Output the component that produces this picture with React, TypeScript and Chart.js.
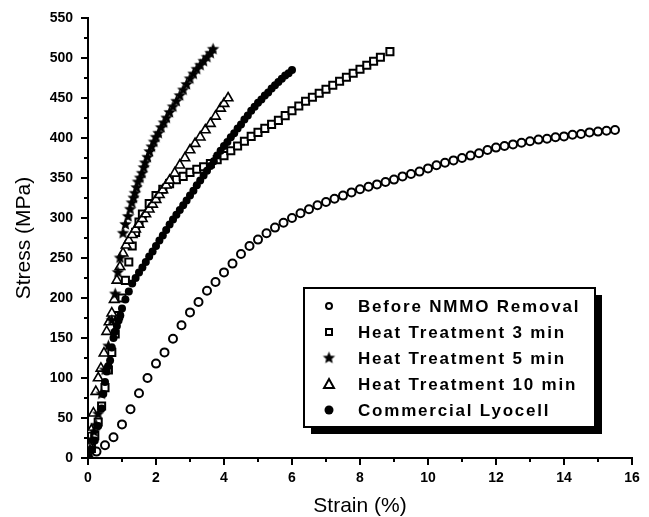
import React, { useEffect, useRef } from 'react';
import { Chart, registerables } from 'chart.js';

Chart.register(...registerables);

const FONT = '"Liberation Sans", Arial, Helvetica, sans-serif';

// ---------- data ----------
const beforeStrain = [0, 0.25, 0.5, 0.75, 1.0, 1.25, 1.5, 1.75, 2.0, 2.25, 2.5, 2.75, 3.0, 3.25, 3.5, 3.75, 4.0, 4.25, 4.5, 4.75, 5.0, 5.25, 5.5, 5.75, 6.0, 6.25, 6.5, 6.75, 7.0, 7.25, 7.5, 7.75, 8.0, 8.25, 8.5, 8.75, 9.0, 9.25, 9.5, 9.75, 10.0, 10.25, 10.5, 10.75, 11.0, 11.25, 11.5, 11.75, 12.0, 12.25, 12.5, 12.75, 13.0, 13.25, 13.5, 13.75, 14.0, 14.25, 14.5, 14.75, 15.0, 15.25, 15.5];
const beforeStress = [0, 8, 16, 26, 42, 61, 81, 100, 118, 132, 149, 166, 182, 195, 209, 220, 232, 243, 255, 265, 273, 281, 288, 294, 300, 306, 311, 316, 320, 324, 328, 332, 336, 339, 342, 345, 348, 352, 355, 358, 362, 366, 369, 372, 375, 378, 381, 385, 388, 390, 392, 394, 396, 398, 399, 401, 402, 404, 405, 407, 408, 409, 410];

const ht3Strain = [0, 0.1, 0.2, 0.3, 0.4, 0.5, 0.6, 0.7, 0.8, 0.9, 1.0, 1.1, 1.2, 1.3, 1.4, 1.5, 1.6, 1.8, 2.0, 2.2, 2.4, 2.6, 2.8, 3.0, 3.2, 3.4, 3.6, 3.8, 4.0, 4.2, 4.4, 4.6, 4.8, 5.0, 5.2, 5.4, 5.6, 5.8, 6.0, 6.2, 6.4, 6.6, 6.8, 7.0, 7.2, 7.4, 7.6, 7.8, 8.0, 8.2, 8.4, 8.6, 8.88];
const ht3Stress = [0, 12, 28, 45, 65, 88, 110, 132, 155, 178, 200, 222, 245, 265, 282, 295, 305, 318, 328, 336, 343, 348, 352, 357, 361, 364, 368, 373, 378, 384, 390, 396, 402, 407, 412, 417, 422, 428, 434, 440, 446, 451, 456, 461, 466, 471, 476, 481, 486, 491, 496, 501, 508];

const ht5Strain = [0, 0.06, 0.12, 0.18, 0.24, 0.3, 0.4, 0.5, 0.6, 0.7, 0.8, 0.88, 0.94, 1.03, 1.1, 1.18, 1.24, 1.29, 1.34, 1.38, 1.43, 1.47, 1.53, 1.59, 1.64, 1.68, 1.75, 1.81, 1.87, 1.94, 2.0, 2.07, 2.15, 2.23, 2.31, 2.4, 2.5, 2.6, 2.7, 2.8, 2.9, 3.0, 3.1, 3.2, 3.3, 3.4, 3.5, 3.6, 3.68];
const ht5Stress = [0, 12, 23, 33, 41, 55, 80, 110, 140, 172, 205, 232, 250, 281, 292, 302, 311, 319, 325, 331, 338, 345, 350, 356, 363, 369, 376, 383, 389, 395, 401, 406, 413, 419, 425, 432, 439, 446, 453, 460, 467, 474, 480, 486, 491, 496, 501, 506, 511];

const ht10Strain = [0, 0.05, 0.1, 0.16, 0.23, 0.3, 0.38, 0.47, 0.55, 0.62, 0.7, 0.77, 0.85, 0.94, 1.03, 1.12, 1.2, 1.3, 1.4, 1.5, 1.6, 1.7, 1.8, 1.9, 2.0, 2.1, 2.2, 2.3, 2.4, 2.55, 2.7, 2.85, 3.0, 3.15, 3.3, 3.45, 3.6, 3.75, 3.9, 4.0, 4.12];
const ht10Stress = [0, 15, 35, 56, 83, 100, 112, 131, 158, 170, 181, 198, 222, 239, 256, 266, 272, 279, 286, 292, 299, 305, 311, 317, 323, 329, 335, 341, 347, 356, 366, 375, 385, 393, 401, 410, 418, 427, 437, 443, 450];

const lyoStrain = [0, 0.1, 0.2, 0.3, 0.4, 0.45, 0.5, 0.55, 0.6, 0.65, 0.7, 0.75, 0.8, 0.85, 0.9, 0.95, 1.0, 1.1, 1.2, 1.3, 1.4, 1.5, 1.6, 1.7, 1.8, 1.9, 2.0, 2.1, 2.2, 2.3, 2.4, 2.5, 2.6, 2.7, 2.8, 2.9, 3.0, 3.1, 3.2, 3.3, 3.4, 3.5, 3.6, 3.7, 3.8, 3.9, 4.0, 4.1, 4.2, 4.3, 4.4, 4.5, 4.6, 4.7, 4.8, 4.9, 5.0, 5.1, 5.2, 5.3, 5.4, 5.5, 5.6, 5.7, 5.8, 5.9, 6.0];
const lyoStress = [0, 10, 22, 40, 62, 80, 95, 108, 115, 122, 138, 150, 158, 165, 172, 178, 187, 198, 208, 218, 225, 232, 238, 245, 252, 258, 265, 272, 278, 285, 292, 298, 304, 310, 316, 322, 328, 334, 341, 347, 353, 359, 365, 371, 378, 384, 390, 395, 401, 406, 412, 417, 423, 428, 434, 439, 444, 448, 453, 457, 462, 466, 470, 474, 478, 481, 485];

const seriesLabels = ['Before NMMO Removal', 'Heat Treatment 3 min', 'Heat Treatment 5 min', 'Heat Treatment 10 min', 'Commercial Lyocell'];
const xTickStep = 2;
const yTickStep = 50;

const toPoints = (xs: number[], ys: number[]) => xs.map((x, i) => ({ x, y: ys[i] }));

function makeStar(r: number): HTMLCanvasElement {
  const s = Math.ceil(r * 2) + 2;
  const c = document.createElement('canvas');
  c.width = s;
  c.height = s;
  const ctx = c.getContext('2d')!;
  ctx.fillStyle = '#000';
  ctx.beginPath();
  for (let i = 0; i < 10; i++) {
    const a = -Math.PI / 2 + (i * Math.PI) / 5;
    const rad = i % 2 === 0 ? r : r * 0.45;
    const px = s / 2 + rad * Math.cos(a);
    const py = s / 2 + rad * Math.sin(a);
    if (i === 0) ctx.moveTo(px, py);
    else ctx.lineTo(px, py);
  }
  ctx.closePath();
  ctx.fill();
  return c;
}

const minorTicks = {
  id: 'minorTicks',
  afterDraw(chart: any) {
    const { ctx } = chart;
    const x = chart.scales.x;
    const y = chart.scales.y;
    ctx.save();
    ctx.strokeStyle = '#000';
    ctx.lineWidth = 2;
    ctx.beginPath();
    for (let v = xTickStep / 2; v < 16; v += xTickStep) {
      const px = x.getPixelForValue(v);
      ctx.moveTo(px, x.top);
      ctx.lineTo(px, x.top + 4);
    }
    for (let v = yTickStep / 2; v < 550; v += yTickStep) {
      const py = y.getPixelForValue(v);
      ctx.moveTo(y.right, py);
      ctx.lineTo(y.right - 4, py);
    }
    ctx.stroke();
    ctx.restore();
  },
};

function makeLegendPlugin(star: HTMLCanvasElement) {
  return {
    id: 'legendBox',
    afterDraw(chart: any) {
      const { ctx } = chart;
      const bx = 304, by = 288, bw = 291, bh = 139;
      ctx.save();
      ctx.fillStyle = '#000';
      ctx.fillRect(bx + 7, by + 7, bw, bh);
      ctx.fillStyle = '#fff';
      ctx.fillRect(bx, by, bw, bh);
      ctx.strokeStyle = '#000';
      ctx.lineWidth = 2;
      ctx.strokeRect(bx, by, bw, bh);
      const mx = 329;
      seriesLabels.forEach((label, i) => {
        const cy = 306 + i * 26;
        ctx.lineWidth = 2;
        ctx.strokeStyle = '#000';
        ctx.fillStyle = '#000';
        if (i === 0) {
          ctx.beginPath();
          ctx.arc(mx, cy, 3, 0, Math.PI * 2);
          ctx.stroke();
        } else if (i === 1) {
          ctx.strokeRect(mx - 3, cy - 3, 6, 6);
        } else if (i === 2) {
          ctx.drawImage(star, mx - star.width / 2, cy - star.height / 2);
        } else if (i === 3) {
          ctx.beginPath();
          ctx.moveTo(mx, cy - 5);
          ctx.lineTo(mx + 5, cy + 4);
          ctx.lineTo(mx - 5, cy + 4);
          ctx.closePath();
          ctx.stroke();
        } else {
          ctx.beginPath();
          ctx.arc(mx, cy, 4.5, 0, Math.PI * 2);
          ctx.fill();
        }
        ctx.fillStyle = '#000';
        ctx.font = `bold 17px ${FONT}`;
        (ctx as any).letterSpacing = '1.8px';
        ctx.textBaseline = 'middle';
        ctx.textAlign = 'left';
        ctx.fillText(label, 358, cy + 1);
      });
      ctx.restore();
    },
  };
}

export default function App() {
  const ref = useRef<HTMLCanvasElement>(null);

  useEffect(() => {
    const star = makeStar(6.5);
    const legendStar = makeStar(6.5);
    const tickFont = { family: FONT, size: 14, weight: 'bold' as const };
    const titleFont = { family: FONT, size: 21, lineHeight: 1 };
    const chart = new Chart(ref.current!, {
      type: 'scatter',
      data: {
        datasets: [
          {
            label: seriesLabels[4],
            data: toPoints(lyoStrain, lyoStress),
            pointStyle: 'circle',
            pointRadius: 4,
            borderWidth: 0,
            backgroundColor: '#000',
            borderColor: '#000',
            order: 0,
          },
          {
            label: seriesLabels[2],
            data: toPoints(ht5Strain, ht5Stress),
            pointStyle: star,
            pointRadius: 6,
            backgroundColor: '#000',
            borderColor: '#000',
            order: 1,
          },
          {
            label: seriesLabels[3],
            data: toPoints(ht10Strain, ht10Stress),
            pointStyle: 'triangle',
            pointRadius: 5.5,
            borderWidth: 1.6,
            backgroundColor: '#fff',
            borderColor: '#000',
            order: 2,
          },
          {
            label: seriesLabels[1],
            data: toPoints(ht3Strain, ht3Stress),
            pointStyle: 'rect',
            pointRadius: 5,
            borderWidth: 2,
            backgroundColor: '#fff',
            borderColor: '#000',
            order: 3,
          },
          {
            label: seriesLabels[0],
            data: toPoints(beforeStrain, beforeStress),
            pointStyle: 'circle',
            pointRadius: 4,
            borderWidth: 2,
            backgroundColor: '#fff',
            borderColor: '#000',
            order: 4,
          },
        ],
      },
      options: {
        animation: false,
        responsive: false,
        maintainAspectRatio: false,
        layout: { padding: { top: 18, right: 17, left: 0, bottom: 0 } },
        plugins: { legend: { display: false }, tooltip: { enabled: false } },
        elements: { point: { hoverRadius: 4 } },
        scales: {
          x: {
            type: 'linear',
            min: 0,
            max: 16,
            afterFit: (s: any) => { s.height = 59; },
            ticks: { stepSize: xTickStep, font: tickFont, color: '#000', padding: 5, maxRotation: 0, autoSkip: false },
            grid: { drawOnChartArea: false, color: '#000', lineWidth: 2, tickLength: 7, tickWidth: 2 },
            border: { color: '#000', width: 2 },
            title: { display: true, text: 'Strain (%)', font: titleFont, color: '#000', padding: { top: 0, bottom: 0 } },
          },
          y: {
            type: 'linear',
            min: 0,
            max: 550,
            afterFit: (s: any) => { s.width = 88; },
            ticks: { stepSize: yTickStep, font: tickFont, color: '#000', padding: 8, autoSkip: false },
            grid: { drawOnChartArea: false, color: '#000', lineWidth: 2, tickLength: 7, tickWidth: 2 },
            border: { color: '#000', width: 2 },
            title: { display: true, text: 'Stress (MPa)', font: titleFont, color: '#000', padding: { top: 14, bottom: 0 } },
          },
        },
      },
      plugins: [minorTicks, makeLegendPlugin(legendStar)],
    });
    return () => chart.destroy();
  }, []);

  return (
    <div style={{ position: 'absolute', left: 0, top: 0, width: 649, height: 517, background: '#fff' }}>
      <canvas ref={ref} width={649} height={517} style={{ display: 'block', width: 649, height: 517 }} />
    </div>
  );
}
